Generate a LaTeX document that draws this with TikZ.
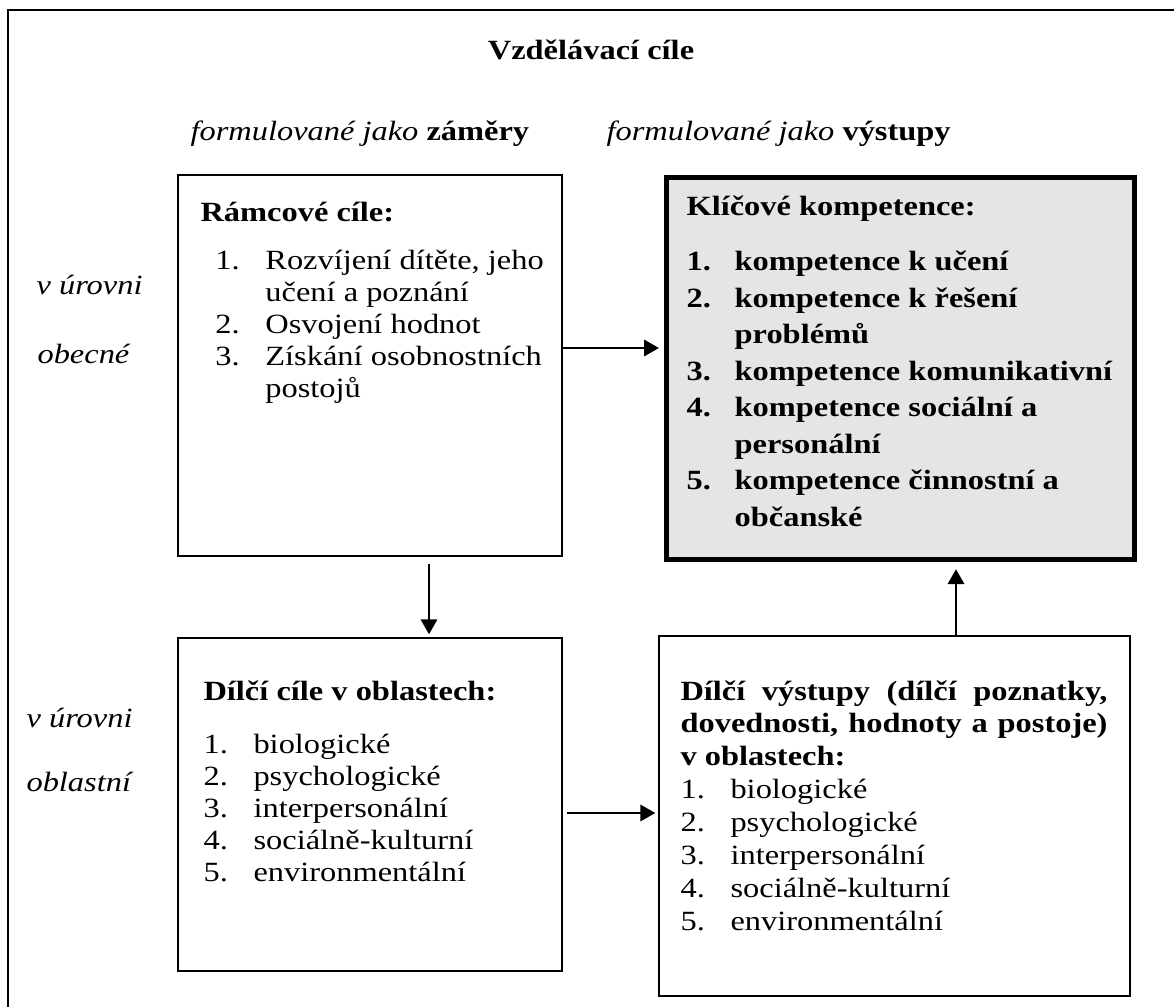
\documentclass[tikz,border=0pt]{standalone}
\usepackage{fontspec}
\setmainfont{Liberation Serif}[FakeStretch=1.165]
\usetikzlibrary{arrows.meta}
\def\px{0.37pt}
\newcommand{\cis}[2]{\makebox[#1][l]{#2}}

\begin{document}
\begin{tikzpicture}[x=0.37pt,y=-0.37pt]
\tikzset{ramecek/.style={draw, line width=0.75pt, inner sep=0pt, anchor=north west}}
\tikzset{klic/.style={ramecek, line width=1.9pt, fill=black!10}}
\tikzset{obsah/.style={inner sep=0pt, anchor=base west,
  font=\fontsize{10.3}{11.84}\selectfont}}
\tikzset{uroven/.style={obsah, font=\itshape\fontsize{10.3}{11.84}\selectfont}}
\tikzset{sipka/.style={draw, line width=0.9pt, -{Triangle[length=5.5pt,width=6pt]}}}

\useasboundingbox (0,0) rectangle (1174,1007);
\draw[line width=0.8pt] (1180,10) -- (8,10) -- (8,1015);

\node[obsah, anchor=base, font=\bfseries\fontsize{10.3}{12}\selectfont](nadpis)at(591,60){Vzdělávací cíle};
\node[obsah](zamery)at(190,141){\textit{formulované jako} \textbf{záměry}};
\node[obsah](vystupy)at(606,141){\textit{formulované jako} \textbf{výstupy}};
\node[uroven](obecne1)at(36,295){v úrovni};
\node[uroven](obecne2)at(37,364){obecné};
\node[uroven](oblast1)at(26,727){v úrovni};
\node[uroven](oblast2)at(26,791){oblastní};

\node[ramecek, minimum width=384*\px, minimum height=381*\px](A)at(177,174){};
\node[klic, minimum width=468*\px, minimum height=382*\px](B)at(664,175){};
\node[ramecek, minimum width=384*\px, minimum height=333*\px](C)at(177,637){};
\node[ramecek, minimum width=471*\px, minimum height=360*\px](D)at(658,635){};

\node[obsah](tA)at(200,222){\begin{tabular}[t]{@{}l@{}}
\textbf{Rámcové cíle:}\\[5.9pt]
\hspace{5.5pt}\cis{18.5pt}{1.}Rozvíjení dítěte, jeho\\
\hspace{5.5pt}\cis{18.5pt}{}učení a poznání\\
\hspace{5.5pt}\cis{18.5pt}{2.}Osvojení hodnot\\
\hspace{5.5pt}\cis{18.5pt}{3.}Získání osobnostních\\
\hspace{5.5pt}\cis{18.5pt}{}postojů
\end{tabular}};

\node[obsah, font=\bfseries\fontsize{10.3}{13.5}\selectfont](tB)at(686,216){\begin{tabular}[t]{@{}l@{}}
Klíčové kompetence:\\[6.85pt]
\cis{17.8pt}{1.}kompetence k učení\\
\cis{17.8pt}{2.}kompetence k řešení\\
\cis{17.8pt}{}problémů\\
\cis{17.8pt}{3.}kompetence komunikativní\\
\cis{17.8pt}{4.}kompetence sociální a\\
\cis{17.8pt}{}personální\\
\cis{17.8pt}{5.}kompetence činnostní a\\
\cis{17.8pt}{}občanské
\end{tabular}};

\node[obsah](tC)at(203,700){\begin{tabular}[t]{@{}l@{}}
\textbf{Dílčí cíle v oblastech:}\\[7.8pt]
\cis{18.5pt}{1.}biologické\\
\cis{18.5pt}{2.}psychologické\\
\cis{18.5pt}{3.}interpersonální\\
\cis{18.5pt}{4.}sociálně-kulturní\\
\cis{18.5pt}{5.}environmentální
\end{tabular}};

\node[obsah, font=\fontsize{10.3}{12.2}\selectfont](tD)at(680,700){\begin{tabular}[t]{@{}l@{}}
\makebox[158pt][s]{\bfseries Dílčí výstupy (dílčí poznatky,}\\
\makebox[158pt][s]{\bfseries dovednosti, hodnoty a postoje)}\\
\textbf{v oblastech:}\\
\cis{18.5pt}{1.}biologické\\
\cis{18.5pt}{2.}psychologické\\
\cis{18.5pt}{3.}interpersonální\\
\cis{18.5pt}{4.}sociálně-kulturní\\
\cis{18.5pt}{5.}environmentální
\end{tabular}};

\coordinate (v1) at (0,348);
\coordinate (v2) at (0,813);
\coordinate (s1) at (429,0);
\coordinate (s2) at (956,0);

\path[sipka, shorten >=1.85pt] (A.east |- v1) -- (B.west |- v1);
\path[sipka, shorten <=2.6pt, shorten >=1pt] (A.south -| s1) -- (C.north -| s1);
\path[sipka, shorten >=2.6pt] (D.north -| s2) -- (B.south -| s2);
\path[sipka, shorten <=1.3pt, shorten >=1pt] (C.east |- v2) -- (D.west |- v2);
\end{tikzpicture}
\end{document}
